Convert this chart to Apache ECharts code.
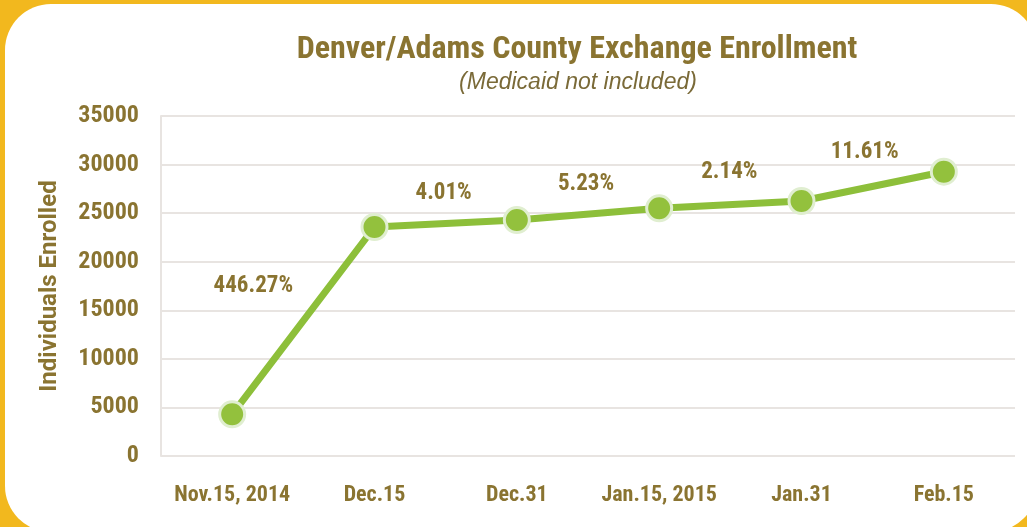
<!DOCTYPE html>
<html>
<head>
<meta charset="utf-8">
<title>Denver/Adams County Exchange Enrollment</title>
<script src="https://cdn.jsdelivr.net/npm/echarts@6/dist/echarts.min.js"></script>
<style>
  html, body { margin: 0; padding: 0; background: #f2b81e; }
  #main { width: 1027px; height: 527px; }
</style>
</head>
<body>
<div id="main"></div>
<script>
// 数据
var dates = ['Nov.15, 2014', 'Dec.15', 'Dec.31', 'Jan.15, 2015', 'Jan.31', 'Feb.15'];
var enrolled = [4290, 23574, 24294, 25498, 26250, 29266];
var growth = ['446.27%', '4.01%', '5.23%', '2.14%', '11.61%'];
var yTicks = [0, 5000, 10000, 15000, 20000, 25000, 30000, 35000];

// 样式
var brown = '#8a7431';
var narrow = "'Roboto Condensed', 'Open Sans Condensed', sans-serif";
var pctOffset = [[-50, -34], [-2, -30], [-2, -30], [-1, -32], [-8, -34]];

// 百分比标签放在两个点之间
var pctData = growth.map(function (txt, i) {
    return {
        value: [i + 1, (enrolled[i] + enrolled[i + 1]) / 2],
        label: { formatter: txt, offset: pctOffset[i] }
    };
});

var myChart = echarts.init(document.getElementById('main'), null, { renderer: 'canvas' });
myChart.setOption({
    backgroundColor: '#f2b81e',
    animation: false,
    graphic: [{
        type: 'rect',
        z: -10,
        shape: { x: 5, y: 4, width: 1032, height: 528, r: 46 },
        style: { fill: '#ffffff' }
    }],
    title: [{
        text: 'Denver/Adams County Exchange Enrollment',
        left: 572,
        top: 29,
        textAlign: 'center',
        textStyle: { color: brown, fontFamily: narrow, fontWeight: 'bold', fontSize: 32 }
    }, {
        text: '(Medicaid not included)',
        left: 573,
        top: 66,
        textAlign: 'center',
        textStyle: { color: '#7a6a38', fontFamily: "'Liberation Sans', sans-serif", fontStyle: 'italic', fontWeight: 'normal', fontSize: 23 }
    }],
    grid: { left: 161, right: 12, top: 116, bottom: 71 },
    xAxis: [{
        type: 'category',
        data: dates,
        boundaryGap: true,
        axisLine: { show: false },
        axisTick: { show: false },
        axisLabel: { interval: 0, color: brown, fontFamily: narrow, fontWeight: 'bold', fontSize: 22, margin: 28 }
    }, {
        type: 'value',
        min: 0,
        max: 6,
        show: false
    }],
    yAxis: {
        type: 'value',
        min: yTicks[0],
        max: yTicks[yTicks.length - 1],
        interval: yTicks[1] - yTicks[0],
        name: 'Individuals Enrolled',
        nameLocation: 'middle',
        nameGap: 99,
        nameMoveOverlap: false,
        nameTextStyle: { color: brown, fontFamily: "Roboto, 'Liberation Sans', sans-serif", fontWeight: 700, fontSize: 24 },
        axisLine: { show: true, lineStyle: { color: '#e8e4e1', width: 2 } },
        axisTick: { show: false },
        axisLabel: {
            color: brown, fontFamily: narrow, fontWeight: 'bold', fontSize: 24, margin: 22,
            formatter: function (v) { return String(v); }
        },
        splitLine: { lineStyle: { color: '#e8e4e1', width: 2 } }
    },
    series: [{
        name: 'Enrolled',
        type: 'line',
        data: enrolled,
        symbol: 'circle',
        symbolSize: 25,
        lineStyle: { color: '#8dbf3a', width: 7 },
        itemStyle: { color: '#93c13d', borderColor: '#e0eed0', borderWidth: 3 }
    }, {
        name: 'Growth',
        type: 'scatter',
        xAxisIndex: 1,
        symbolSize: 0,
        data: pctData,
        itemStyle: { opacity: 1 },
        label: {
            show: true,
            position: 'inside',
            color: brown,
            fontFamily: narrow,
            fontWeight: 'bold',
            fontSize: 23
        },
        silent: true
    }]
});
</script>
</body>
</html>
